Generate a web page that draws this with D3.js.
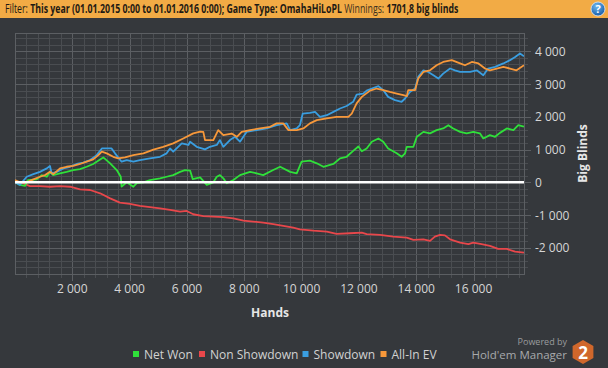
<!DOCTYPE html>
<html>
<head>
<meta charset="utf-8">
<script src="https://cdn.jsdelivr.net/npm/d3@7"></script>
<style>
  html, body { margin: 0; padding: 0; background: #35383c; }
  svg { display: block; font-family: "Open Sans", "Noto Sans", sans-serif; }
</style>
</head>
<body>
<div id="chart"></div>
<script>
// Data: [hands, big blinds]
const netWon = [[0,0],[170,-80],[350,-110],[450,70],[760,90],[930,220],[1110,170],[1220,320],[1330,220],[1570,270],[1800,320],[2030,375],[2270,405],[2500,475],[2730,560],[2970,700],[3080,760],[3320,580],[3550,375],[3690,170],[3720,-130],[3900,0],[4130,-135],[4250,-25],[4480,0],[4710,70],[5060,120],[5290,170],[5520,220],[5760,320],[5930,375],[6110,360],[6200,100],[6460,150],[6690,-80],[6920,0],[7040,170],[7150,220],[7270,120],[7390,-30],[7620,70],[7850,220],[8200,320],[8430,275],[8660,220],[9010,375],[9250,475],[9600,320],[9830,275],[10000,630],[10290,660],[10530,580],[10760,475],[11110,560],[11340,730],[11570,780],[11800,960],[11980,1095],[12100,950],[12270,1035],[12450,1240],[12680,1340],[12850,1240],[13020,1035],[13320,885],[13490,780],[13610,885],[13670,1085],[13900,1085],[14020,1390],[14250,1540],[14480,1495],[14710,1595],[14940,1645],[15120,1745],[15290,1645],[15530,1540],[15760,1495],[15990,1540],[16220,1495],[16340,1340],[16570,1440],[16750,1390],[16920,1510],[17160,1645],[17390,1595],[17560,1745],[17760,1702]];

const nonShowdown = [[0,0],[290,-30],[520,-115],[870,-115],[1220,-135],[1570,-115],[1920,-135],[2270,-215],[2620,-235],[2970,-335],[3320,-490],[3660,-620],[4010,-660],[4360,-720],[4710,-760],[5060,-795],[5410,-845],[5760,-895],[5990,-875],[6220,-975],[6570,-1030],[6920,-1050],[7270,-1065],[7620,-1100],[7970,-1170],[8310,-1200],[8660,-1230],[9010,-1280],[9360,-1330],[9710,-1385],[9940,-1435],[10410,-1475],[10880,-1505],[11220,-1575],[11690,-1555],[12100,-1535],[12270,-1585],[12740,-1605],[13200,-1660],[13670,-1690],[13900,-1760],[14250,-1740],[14480,-1790],[14650,-1660],[14830,-1605],[15000,-1620],[15180,-1740],[15530,-1840],[15820,-1890],[15990,-1840],[16280,-1890],[16570,-1940],[16860,-2035],[17160,-2035],[17450,-2115],[17760,-2145]];

const showdown = [[0,0],[170,-80],[410,170],[640,250],[870,320],[1110,425],[1220,500],[1280,270],[1460,320],[1690,425],[1920,475],[2150,560],[2380,600],[2620,680],[2850,830],[3030,1035],[3200,1035],[3370,1035],[3490,885],[3720,630],[3900,680],[4130,630],[4360,680],[4710,730],[5060,780],[5290,885],[5410,1035],[5520,935],[5820,1190],[6050,1140],[6110,1240],[6340,1085],[6630,1005],[6800,1085],[7040,1140],[7150,1290],[7270,1085],[7500,1290],[7680,1390],[7850,1240],[8080,1540],[8430,1595],[8780,1645],[9130,1745],[9480,1800],[9600,1595],[9830,1645],[9940,1745],[10040,2100],[10290,2120],[10470,2150],[10640,2000],[10880,2050],[11110,2150],[11340,2255],[11570,2330],[11800,2460],[11920,2680],[12150,2710],[12270,2800],[12450,2865],[12680,2935],[12850,2815],[13020,2610],[13260,2510],[13490,2460],[13610,2560],[13780,2760],[13960,2865],[14070,3220],[14250,3420],[14420,3370],[14600,3270],[14770,3170],[14940,3320],[15180,3475],[15350,3420],[15530,3370],[15880,3370],[16110,3420],[16340,3270],[16510,3475],[16750,3525],[17040,3630],[17270,3730],[17450,3830],[17620,3935],[17760,3850]];

const allInEV = [[0,70],[170,0],[410,0],[640,90],[870,170],[1050,220],[1220,320],[1340,250],[1570,425],[1800,475],[2030,500],[2270,560],[2500,630],[2730,700],[2910,830],[3030,935],[3200,885],[3430,780],[3600,730],[3840,760],[4130,830],[4480,885],[4830,1000],[5170,1085],[5520,1190],[5870,1340],[6220,1495],[6460,1550],[6570,1540],[6630,1290],[6920,1290],[7090,1595],[7270,1440],[7560,1490],[7740,1390],[7910,1540],[8200,1595],[8550,1645],[8900,1695],[9130,1800],[9360,1800],[9540,1595],[9830,1595],[10060,1645],[10290,1800],[10530,1900],[10880,1950],[11220,2000],[11630,2000],[11750,2100],[11920,2410],[12100,2610],[12390,2800],[12620,2865],[12850,2815],[13080,2760],[13320,2710],[13550,2660],[13670,2630],[13720,2815],[13960,2815],[14070,3170],[14250,3370],[14480,3420],[14710,3575],[14940,3675],[15240,3730],[15530,3630],[15700,3575],[15940,3675],[16170,3630],[16400,3475],[16570,3420],[16810,3475],[17040,3525],[17270,3475],[17500,3420],[17760,3575]];

const handTicks = [2000, 4000, 6000, 8000, 10000, 12000, 14000, 16000];
const bbTicks = [-2000, -1000, 0, 1000, 2000, 3000, 4000];
const seriesNames = ['Net Won', 'Non Showdown', 'Showdown', 'All-In EV'];
const seriesColors = ['#2fe03a', '#e8474b', '#3a9ee0', '#f7983a'];

const width = 608;
const height = 368;
const plot = { left: 15, right: 524, top: 33, bottom: 274 };

const svg = d3.select('#chart').append('svg')
  .attr('width', width)
  .attr('height', height);

svg.append('rect').attr('width', width).attr('height', height).attr('fill', '#35383c');

// Header bar
svg.append('rect').attr('width', width).attr('height', 18).attr('fill', '#f2ab45');
const head = svg.append('g').attr('transform', 'translate(5,0)');
const headText = head.append('text')
  .attr('y', 13)
  .attr('font-size', 12)
  .attr('fill', '#1e1a14');
headText.append('tspan').text('Filter: ');
headText.append('tspan').attr('font-weight', 'bold').text('This year (01.01.2015 0:00 to 01.01.2016 0:00); Game Type: OmahaHiLoPL');
headText.append('tspan').attr('fill', '#3a3020').text(' Winnings: ');
headText.append('tspan').attr('font-weight', 'bold').text('1701,8 big blinds');
const hw = headText.node().getComputedTextLength();
headText.attr('transform', `scale(${454 / hw},1)`);

// Help icon
const grad = svg.append('defs').append('radialGradient')
  .attr('id', 'helpGrad').attr('cx', '40%').attr('cy', '30%').attr('r', '70%');
grad.append('stop').attr('offset', '0%').attr('stop-color', '#6fb8f0');
grad.append('stop').attr('offset', '100%').attr('stop-color', '#1a5fa8');
svg.append('circle').attr('cx', 598).attr('cy', 9).attr('r', 7)
  .attr('fill', 'url(#helpGrad)').attr('stroke', '#e6eef6').attr('stroke-width', 0.8);
svg.append('text').attr('x', 598).attr('y', 13).attr('text-anchor', 'middle')
  .attr('font-size', 11).attr('font-weight', 'bold').attr('fill', '#fff').text('?');

// Scales
const x = d3.scaleLinear().domain([0, 17760]).range([plot.left, plot.right]);
const y = d3.scaleLinear().domain([-2800, 4560]).range([plot.bottom, plot.top]);

const locale = d3.formatLocale({ decimal: ',', thousands: ' ', grouping: [3], currency: ['', ''], minus: '-' });
const fmt = locale.format(',d');

// Grid
const grid = svg.append('g');
const minorX = d3.range(400, 17760, 400);
const minorY = d3.range(-2600, 4560, 200);

grid.selectAll('.vx').data(minorX).join('line')
  .attr('x1', d => Math.round(x(d)) + 0.5).attr('x2', d => Math.round(x(d)) + 0.5)
  .attr('y1', plot.top).attr('y2', d => plot.bottom + (d % 2000 === 0 ? 7 : 4))
  .attr('stroke', d => d % 2000 === 0 ? '#5c5f63' : '#4a4d51')
  .attr('stroke-width', 1);

grid.selectAll('.hy').data(minorY).join('line')
  .attr('y1', d => Math.round(y(d)) + 0.5).attr('y2', d => Math.round(y(d)) + 0.5)
  .attr('x1', plot.left).attr('x2', d => plot.right + (d % 1000 === 0 ? 7 : 4))
  .attr('stroke', d => d % 1000 === 0 ? '#5c5f63' : '#4a4d51')
  .attr('stroke-width', 1);

grid.append('rect')
  .attr('x', plot.left + 0.5).attr('y', plot.top + 0.5)
  .attr('width', plot.right - plot.left).attr('height', plot.bottom - plot.top)
  .attr('fill', 'none').attr('stroke', '#5c5f63');

// Axes labels
svg.append('g').selectAll('text').data(handTicks).join('text')
  .attr('x', d => x(d)).attr('y', 293)
  .attr('text-anchor', 'middle')
  .attr('font-size', 12).attr('fill', '#d6d6d6')
  .text(d => fmt(d));

svg.append('g').selectAll('text').data(bbTicks).join('text')
  .attr('x', 535).attr('y', d => y(d) + 4.5)
  .attr('font-size', 12).attr('fill', '#d6d6d6')
  .text(d => fmt(d));

svg.append('text')
  .attr('x', 270).attr('y', 317)
  .attr('text-anchor', 'middle')
  .attr('font-size', 12).attr('font-weight', 'bold').attr('fill', '#e6e6e6')
  .text('Hands');

svg.append('text')
  .attr('transform', `translate(587,${(plot.top + plot.bottom) / 2}) rotate(-90)`)
  .attr('text-anchor', 'middle')
  .attr('font-size', 12).attr('font-weight', 'bold').attr('fill', '#e6e6e6')
  .text('Big Blinds');

// Lines
const line = d3.line().x(d => x(d[0])).y(d => y(d[1]));
svg.append('clipPath').attr('id', 'plotClip').append('rect')
  .attr('x', plot.left).attr('y', plot.top)
  .attr('width', plot.right - plot.left).attr('height', plot.bottom - plot.top);

const lines = svg.append('g').attr('clip-path', 'url(#plotClip)');
const drawOrder = [[nonShowdown, 1], [netWon, 0], [showdown, 2], [allInEV, 3]];
drawOrder.forEach(([data, i]) => {
  lines.append('path')
    .datum(data)
    .attr('d', line)
    .attr('fill', 'none')
    .attr('stroke', seriesColors[i])
    .attr('stroke-width', 1.8)
    .attr('stroke-linejoin', 'round');
});

// zero line
lines.append('line')
  .attr('x1', plot.left).attr('x2', plot.right)
  .attr('y1', y(0)).attr('y2', y(0))
  .attr('stroke', '#ffffff').attr('stroke-width', 2.5);

// Legend
const legendX = [133, 199, 302.5, 380.5];
const legend = svg.append('g');
seriesNames.forEach((name, i) => {
  legend.append('rect')
    .attr('x', legendX[i]).attr('y', 351)
    .attr('width', 6).attr('height', 6)
    .attr('fill', seriesColors[i]);
  legend.append('text')
    .attr('x', legendX[i] + 11).attr('y', 358.5)
    .attr('font-size', 12).attr('fill', '#d2d2d2')
    .text(name);
});

// Branding
svg.append('text')
  .attr('x', 567).attr('y', 344.5)
  .attr('text-anchor', 'end')
  .attr('font-size', 9).attr('fill', '#9a9c9e')
  .text('Powered by');
svg.append('text')
  .attr('x', 567).attr('y', 358.5)
  .attr('text-anchor', 'end')
  .attr('font-size', 11.5).attr('fill', '#a8aaac')
  .text("Hold'em Manager");

const hexR = 12;
const hex = d3.range(6).map(k => {
  const a = Math.PI / 3 * k - Math.PI / 2;
  return [583 + hexR * Math.cos(a), 352 + hexR * Math.sin(a)];
});
svg.append('polygon')
  .attr('points', hex.map(p => p.join(',')).join(' '))
  .attr('fill', '#d0672b');
svg.append('text')
  .attr('x', 583).attr('y', 358.5)
  .attr('text-anchor', 'middle')
  .attr('font-size', 17).attr('font-weight', 'bold').attr('fill', '#ffffff')
  .text('2');
</script>
</body>
</html>
